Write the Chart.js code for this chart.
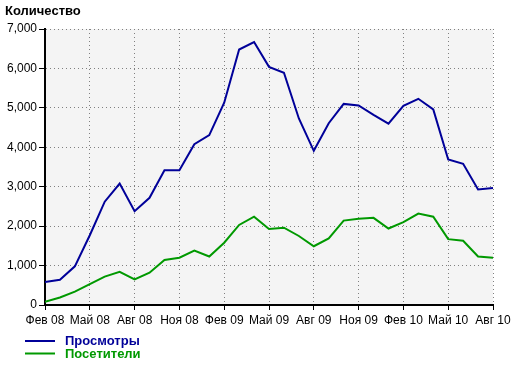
<!DOCTYPE html>
<html>
<head>
<meta charset="utf-8">
<script src="https://cdn.jsdelivr.net/npm/chart.js@4.4.0/dist/chart.umd.min.js"></script>
<style>
  html, body { margin: 0; padding: 0; background: #fff; }
</style>
</head>
<body>
<canvas id="myChart" width="520" height="366"></canvas>
<script>
// monthly data, Feb 2008 .. Aug 2010
const months = [
  'Фев 08', 'Мар 08', 'Апр 08', 'Май 08', 'Июн 08', 'Июл 08', 'Авг 08', 'Сен 08', 'Окт 08', 'Ноя 08', 'Дек 08',
  'Янв 09', 'Фев 09', 'Мар 09', 'Апр 09', 'Май 09', 'Июн 09', 'Июл 09', 'Авг 09', 'Сен 09', 'Окт 09', 'Ноя 09', 'Дек 09',
  'Янв 10', 'Фев 10', 'Мар 10', 'Апр 10', 'Май 10', 'Июн 10', 'Июл 10', 'Авг 10'
];

const views = [580, 640, 980, 1770, 2620, 3080, 2380, 2720, 3420, 3420, 4080, 4310, 5130, 6480, 6670, 6040,
  5890, 4730, 3910, 4610, 5100, 5060, 4820, 4600, 5050, 5230, 4960, 3690, 3580, 2930, 2970];

const visitors = [80, 190, 340, 530, 720, 840, 650, 820, 1140, 1200, 1380, 1230, 1580, 2030, 2240, 1930,
  1960, 1750, 1490, 1690, 2140, 2190, 2210, 1940, 2100, 2320, 2240, 1670, 1630, 1230, 1200];

const seriesNames = ['Просмотры', 'Посетители'];
const seriesColors = ['#000099', '#009900'];
const yTicks = [0, 1000, 2000, 3000, 4000, 5000, 6000, 7000];

const FONT = "'Liberation Sans', Arial, sans-serif";

function toPoints(arr) {
  return arr.map((v, i) => ({ x: i, y: v }));
}

// grey plot background
const plotBg = {
  id: 'plotBg',
  beforeDraw(chart) {
    const a = chart.chartArea, ctx = chart.ctx;
    ctx.save();
    ctx.fillStyle = '#f4f4f4';
    ctx.fillRect(a.left, a.top, a.right - a.left, a.bottom - a.top);
    ctx.restore();
  }
};

// stacked legend under the x axis
const stackLegend = {
  id: 'stackLegend',
  afterDraw(chart) {
    const ctx = chart.ctx, a = chart.chartArea;
    ctx.save();
    chart.data.datasets.forEach((ds, i) => {
      const y = a.bottom + 36 + i * 12.5;
      ctx.strokeStyle = ds.borderColor;
      ctx.lineWidth = 2;
      ctx.beginPath();
      ctx.moveTo(25, y);
      ctx.lineTo(55, y);
      ctx.stroke();
      ctx.fillStyle = ds.borderColor;
      ctx.font = 'bold 13px ' + FONT;
      ctx.textBaseline = 'middle';
      ctx.fillText(ds.label, 65, y + 0.5);
    });
    ctx.restore();
  }
};

const myChart = new Chart(document.getElementById('myChart'), {
  type: 'line',
  data: {
    datasets: [
      { label: seriesNames[0], data: toPoints(views), borderColor: seriesColors[0], borderWidth: 2, pointRadius: 0, tension: 0 },
      { label: seriesNames[1], data: toPoints(visitors), borderColor: seriesColors[1], borderWidth: 2, pointRadius: 0, tension: 0 }
    ]
  },
  options: {
    responsive: false,
    animation: false,
    layout: { padding: { left: 5, right: 27, top: 0, bottom: 31 } },
    plugins: {
      legend: { display: false },
      tooltip: { enabled: false },
      title: {
        display: true,
        text: 'Количество',
        align: 'start',
        color: '#000',
        font: { family: FONT, size: 13, weight: 'bold', lineHeight: 1.2 },
        padding: { top: 4, bottom: 9.4 }
      }
    },
    scales: {
      x: {
        type: 'linear',
        min: 0,
        max: months.length - 1,
        afterFit(scale) { scale.height = 30; },
        afterBuildTicks(scale) {
          scale.ticks = months.map((m, i) => ({ value: i })).filter(t => t.value % 3 === 0);
        },
        ticks: {
          color: '#000',
          font: { family: FONT, size: 12 },
          padding: 3,
          maxRotation: 0,
          autoSkip: false,
          callback: v => months[v]
        },
        grid: { color: '#808080', tickColor: '#000', tickLength: 5, lineWidth: 1 },
        border: { color: '#000', width: 2, dash: [1, 3] }
      },
      y: {
        min: 0,
        max: 7000,
        afterFit(scale) { scale.width = 40; },
        afterBuildTicks(scale) {
          scale.ticks = yTicks.map(v => ({ value: v }));
        },
        ticks: {
          color: '#000',
          font: { family: FONT, size: 12 },
          padding: 2,
          callback: v => v.toLocaleString('en-US')
        },
        grid: { color: '#808080', tickColor: '#000', tickLength: 6, lineWidth: 1 },
        border: { color: '#000', width: 2, dash: [1, 3] }
      }
    }
  },
  plugins: [plotBg, stackLegend]
});
</script>
</body>
</html>
